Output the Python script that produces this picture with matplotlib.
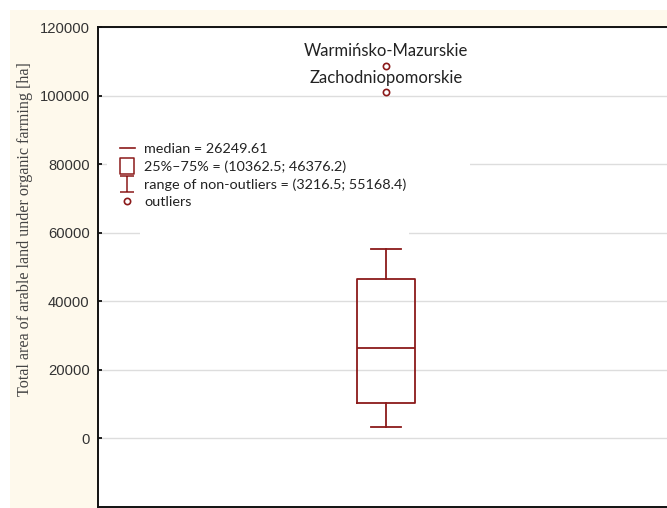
import matplotlib.pyplot as plt
from matplotlib.lines import Line2D
from matplotlib.patches import Rectangle
from matplotlib.path import Path

# Data
median = 26249.61
q1, q3 = 10362.5, 46376.2
whis_lo, whis_hi = 3216.5, 55168.4
outlier_values = [108700, 101000]
outlier_names = ['Warmińsko-Mazurskie', 'Zachodniopomorskie']
y_ticks = [0, 20000, 40000, 60000, 80000, 100000, 120000]

red = '#8B1A1A'
W, H = 667, 508

fig = plt.figure(figsize=(W / 100, H / 100), dpi=100, facecolor='white')
# cream panel behind the chart
fig.patches.append(Rectangle((10 / W, 0), 1, 498 / H, transform=fig.transFigure,
                             facecolor='#FEF9EC', edgecolor='none', zorder=-10))

ax = fig.add_axes([98 / W, 1 / H, 575 / W, 480 / H])
ax.set_facecolor('white')

stats = [dict(med=median, q1=q1, q3=q3, whislo=whis_lo, whishi=whis_hi,
              fliers=outlier_values)]
ax.bxp(stats, positions=[1], widths=0.204, showfliers=True,
       boxprops=dict(color=red, linewidth=1.3),
       medianprops=dict(color=red, linewidth=1.3),
       whiskerprops=dict(color=red, linewidth=1.3),
       capprops=dict(color=red, linewidth=1.3),
       capwidths=0.105,
       flierprops=dict(marker='o', markersize=4.5, markerfacecolor='white',
                       markeredgecolor=red, markeredgewidth=1.2))

for v, name in zip(outlier_values, outlier_names):
    ax.annotate(name, (1, v), xytext=(0, 10.5), textcoords='offset points',
                ha='center', va='center', fontsize=12, family='Lato', color='#222222')

ax.set_xlim(0.0, 1.996)
ax.set_ylim(-20000, 120000)
ax.set_yticks(y_ticks)
ax.set_xticks([])
ax.tick_params(axis='y', direction='in', length=3, width=1.3, color='#111111',
               pad=6, labelsize=10.6, labelcolor='#333333')
for lab in ax.get_yticklabels():
    lab.set_family('Liberation Sans')
ax.yaxis.grid(True, color='#DDDDDD', linewidth=1)
ax.set_axisbelow(True)
ax.set_ylabel('Total area of arable land under organic farming [ha]',
              family='Liberation Serif', fontsize=11.6, color='#444444')
ax.yaxis.set_label_coords(-0.113, 0.58)

for side in ['left', 'top', 'bottom']:
    ax.spines[side].set_color('#111111')
    ax.spines[side].set_linewidth(1.4)
ax.spines['right'].set_visible(False)

# white area behind the legend that hides the grid
for x0, y0, x1, y1 in [(107, 135, 470, 212), (140, 212, 409, 245)]:
    ax.add_patch(Rectangle((x0 / W, (H - y1) / H), (x1 - x0) / W, (y1 - y0) / H,
                           transform=fig.transFigure, facecolor='white',
                           edgecolor='none', zorder=1))

# legend handles
cap_marker = Path([(-0.82, 1), (0.82, 1), (0, 1), (0, -1), (-0.82, -1), (0.82, -1)],
                  [Path.MOVETO, Path.LINETO, Path.MOVETO, Path.LINETO,
                   Path.MOVETO, Path.LINETO])
box_marker = Path([(-0.82, -1), (0.82, -1), (0.82, 1), (-0.82, 1), (-0.82, -1)],
                  closed=True)
handles = [
    Line2D([], [], color=red, linewidth=1.2),
    Line2D([], [], linestyle='none', marker=box_marker, markersize=12,
           markerfacecolor='white', markeredgecolor=red, markeredgewidth=1.1),
    Line2D([], [], linestyle='none', marker=cap_marker, markersize=12,
           color=red, markeredgewidth=1.1),
    Line2D([], [], linestyle='none', marker='o', markersize=4.5,
           markerfacecolor='white', markeredgecolor=red, markeredgewidth=1.2),
]
labels = ['median = 26249.61', '25%\u201375% = (10362.5; 46376.2)',
          'range of non-outliers = (3216.5; 55168.4)', 'outliers']
leg = ax.legend(handles, labels, loc='upper left',
                bbox_to_anchor=(108 / W, (H - 131) / H), bbox_transform=fig.transFigure,
                frameon=False, handlelength=1.1, handletextpad=0.6,
                labelspacing=0.38, borderpad=0.3, prop=dict(family='Lato', size=10.4))
for t in leg.get_texts():
    t.set_color('#222222')

fig.savefig('out.png', dpi=100, facecolor=fig.get_facecolor())
